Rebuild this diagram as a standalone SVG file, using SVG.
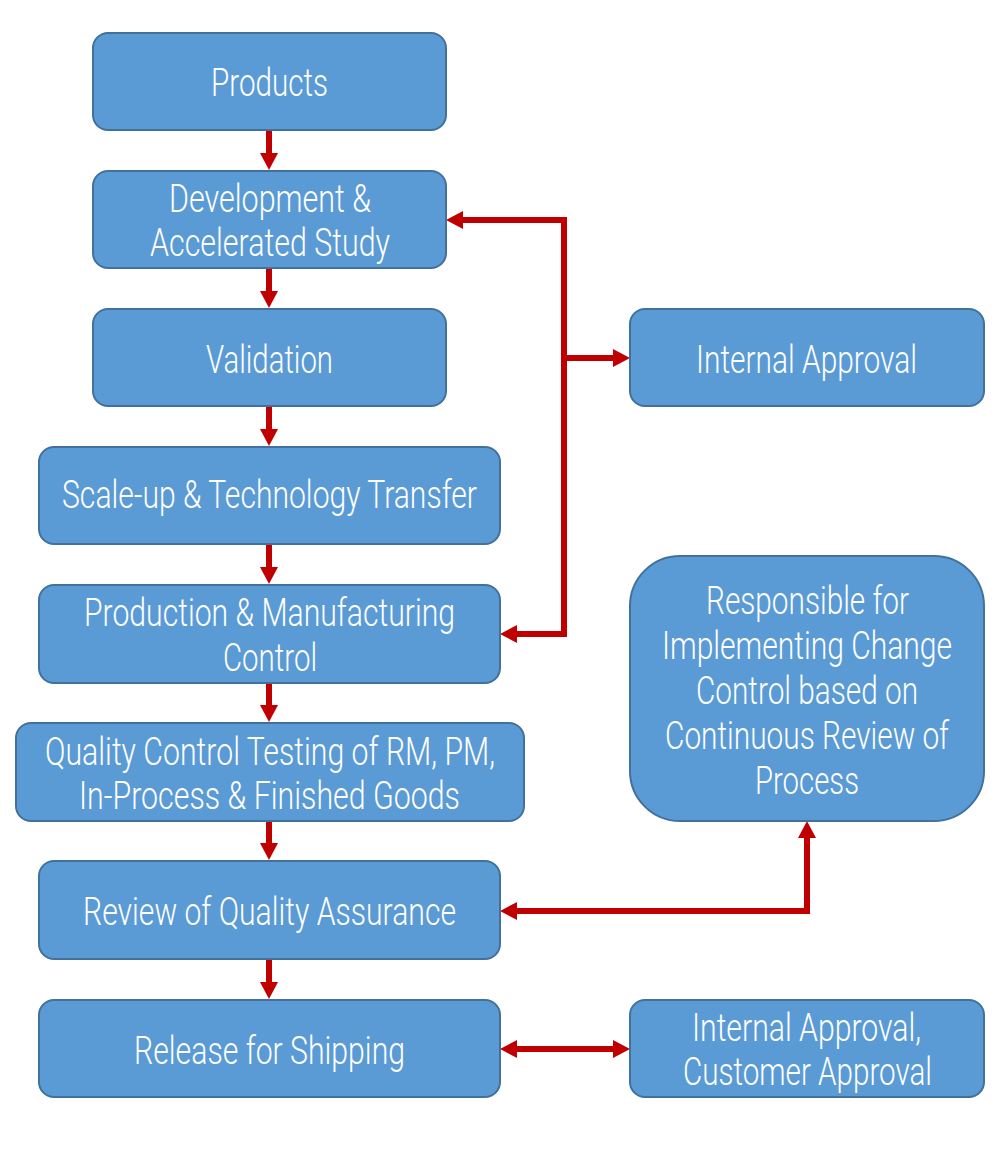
<svg xmlns="http://www.w3.org/2000/svg" width="1000" height="1150" viewBox="0 0 1000 1150">
<style>
.box{fill:#5B9BD5;stroke:#41719C;stroke-width:2}
.t{font-family:Roboto,"Liberation Sans",sans-serif;font-weight:300;font-size:38px;fill:#FFFFFF;text-anchor:middle}
.c{fill:none;stroke:#C00000;stroke-width:6}
</style>
<defs>
<marker id="ah" markerUnits="userSpaceOnUse" markerWidth="17" markerHeight="18" viewBox="0 -9 17 18" refX="0" refY="0" orient="auto-start-reverse" overflow="visible">
<path d="M0,-9 L17,0 L0,9 Z" fill="#C00000"/>
</marker>
</defs>
<rect width="1000" height="1150" fill="#FFFFFF"/>
<g id="connectors">
<path class="c" d="M269,131 V153" marker-end="url(#ah)"/>
<path class="c" d="M269,269 V291" marker-end="url(#ah)"/>
<path class="c" d="M269,407 V429" marker-end="url(#ah)"/>
<path class="c" d="M269,545 V567" marker-end="url(#ah)"/>
<path class="c" d="M269,684 V705" marker-end="url(#ah)"/>
<path class="c" d="M269,822 V843" marker-end="url(#ah)"/>
<path class="c" d="M269,960 V982" marker-end="url(#ah)"/>
<path class="c" d="M463,220 H564 V634 H517" marker-start="url(#ah)" marker-end="url(#ah)"/>
<path class="c" d="M564,358 H613" marker-end="url(#ah)"/>
<path class="c" d="M517,911 H807 V838" marker-start="url(#ah)" marker-end="url(#ah)"/>
<path class="c" d="M517,1049 H613" marker-start="url(#ah)" marker-end="url(#ah)"/>
</g>
<g id="products"><rect class="box" x="93" y="33" width="353" height="97" rx="15"/><text class="t" transform="matrix(0.85 0 0 1 269.5 0)" x="0" y="96" textLength="137.6" lengthAdjust="spacingAndGlyphs">Products</text></g>
<g id="development"><rect class="box" x="93" y="171" width="353" height="97" rx="15"/><text class="t" transform="matrix(0.85 0 0 1 270 0)" x="0" y="212" textLength="237.6" lengthAdjust="spacingAndGlyphs">Development &amp;</text><text class="t" transform="matrix(0.85 0 0 1 270 0)" x="0" y="256" textLength="282.4" lengthAdjust="spacingAndGlyphs">Accelerated Study</text></g>
<g id="validation"><rect class="box" x="93" y="309" width="353" height="97" rx="15"/><text class="t" transform="matrix(0.85 0 0 1 269.5 0)" x="0" y="373" textLength="149.4" lengthAdjust="spacingAndGlyphs">Validation</text></g>
<g id="scaleup"><rect class="box" x="39" y="447" width="461" height="97" rx="15"/><text class="t" transform="matrix(0.85 0 0 1 269.5 0)" x="0" y="508" textLength="488.2" lengthAdjust="spacingAndGlyphs">Scale-up &amp; Technology Transfer</text></g>
<g id="production"><rect class="box" x="39" y="585" width="461" height="98" rx="15"/><text class="t" transform="matrix(0.85 0 0 1 269.5 0)" x="0" y="626" textLength="436.5" lengthAdjust="spacingAndGlyphs">Production &amp; Manufacturing</text><text class="t" transform="matrix(0.85 0 0 1 270 0)" x="0" y="671" textLength="110.6" lengthAdjust="spacingAndGlyphs">Control</text></g>
<g id="qc"><rect class="box" x="16" y="723" width="508" height="98" rx="15"/><text class="t" transform="matrix(0.85 0 0 1 270 0)" x="0" y="765" textLength="529.4" lengthAdjust="spacingAndGlyphs">Quality Control Testing of RM, PM,</text><text class="t" transform="matrix(0.85 0 0 1 269.5 0)" x="0" y="809" textLength="448.2" lengthAdjust="spacingAndGlyphs">In-Process &amp; Finished Goods</text></g>
<g id="review"><rect class="box" x="39" y="861" width="461" height="98" rx="15"/><text class="t" transform="matrix(0.85 0 0 1 269.5 0)" x="0" y="925" textLength="438.8" lengthAdjust="spacingAndGlyphs">Review of Quality Assurance</text></g>
<g id="release"><rect class="box" x="39" y="1000" width="461" height="97" rx="15"/><text class="t" transform="matrix(0.85 0 0 1 269.5 0)" x="0" y="1064" textLength="318.8" lengthAdjust="spacingAndGlyphs">Release for Shipping</text></g>
<g id="internal"><rect class="box" x="630" y="309" width="354" height="97" rx="15"/><text class="t" transform="matrix(0.85 0 0 1 806.5 0)" x="0" y="373" textLength="260" lengthAdjust="spacingAndGlyphs">Internal Approval</text></g>
<g id="responsible"><rect class="box" x="630" y="556" width="354" height="265" rx="50"/><text class="t" transform="matrix(0.85 0 0 1 807.5 0)" x="0" y="614" textLength="238.8" lengthAdjust="spacingAndGlyphs">Responsible for</text><text class="t" transform="matrix(0.85 0 0 1 807 0)" x="0" y="659" textLength="341.2" lengthAdjust="spacingAndGlyphs">Implementing Change</text><text class="t" transform="matrix(0.85 0 0 1 807 0)" x="0" y="704" textLength="261.2" lengthAdjust="spacingAndGlyphs">Control based on</text><text class="t" transform="matrix(0.85 0 0 1 807 0)" x="0" y="749" textLength="334.1" lengthAdjust="spacingAndGlyphs">Continuous Review of</text><text class="t" transform="matrix(0.85 0 0 1 807 0)" x="0" y="794" textLength="122.4" lengthAdjust="spacingAndGlyphs">Process</text></g>
<g id="customer"><rect class="box" x="630" y="1000" width="354" height="97" rx="15"/><text class="t" transform="matrix(0.85 0 0 1 806.5 0)" x="0" y="1041" textLength="269.4" lengthAdjust="spacingAndGlyphs">Internal Approval,</text><text class="t" transform="matrix(0.85 0 0 1 807.5 0)" x="0" y="1085" textLength="292.9" lengthAdjust="spacingAndGlyphs">Customer Approval</text></g>
</svg>
